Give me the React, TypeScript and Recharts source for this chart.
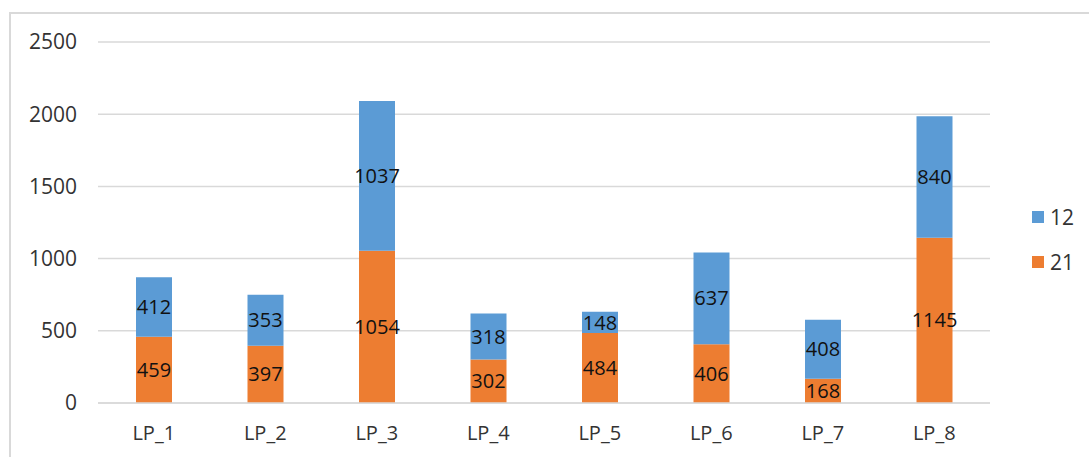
import { BarChart, Bar, XAxis, YAxis, CartesianGrid, Legend, LabelList } from 'recharts';

const categories = ['LP_1', 'LP_2', 'LP_3', 'LP_4', 'LP_5', 'LP_6', 'LP_7', 'LP_8'];
const series21 = [459, 397, 1054, 302, 484, 406, 168, 1145];
const series12 = [412, 353, 1037, 318, 148, 637, 408, 840];
const yTicks = [0, 500, 1000, 1500, 2000, 2500];

const data = categories.map((name, i) => ({ name, s21: series21[i], s12: series12[i] }));

const FONT = '"Open Sans", "Noto Sans", sans-serif';

function LegendBox({ payload }: any) {
  const items = payload || [];
  return (
    <div style={{ fontFamily: FONT, fontSize: 21, color: '#333', transform: 'translate(42px, 11px)' }}>
      {items.map((p: any) => (
        <div key={p.value} style={{ display: 'flex', alignItems: 'center', height: 45 }}>
          <span style={{ width: 12, height: 12, background: p.color, display: 'inline-block', marginRight: 6 }} />
          <span>{p.value}</span>
        </div>
      ))}
    </div>
  );
}

export default function App() {
  return (
    <div style={{ position: 'absolute', left: 0, top: 0, width: 1089, height: 457, overflow: 'hidden', background: '#fff' }}>
      <div
        style={{
          position: 'absolute',
          left: 9,
          top: 12,
          width: 1200,
          height: 600,
          border: '2px solid #d9d9d9',
          boxSizing: 'border-box',
        }}
      />
      <BarChart
        width={1089}
        height={457}
        data={data}
        margin={{ top: 42, right: 40, bottom: 24, left: 0 }}
        barSize={36}
        style={{ position: 'absolute', left: 0, top: 0 }}
      >
        <CartesianGrid vertical={false} stroke="#d9d9d9" strokeWidth={1.5} />
        <XAxis
          dataKey="name"
          axisLine={{ stroke: '#d9d9d9', strokeWidth: 1.5 }}
          tickLine={false}
          tickMargin={17}
          tick={{ fill: '#333', fontSize: 20, fontFamily: FONT }}
        />
        <YAxis
          width={98}
          domain={[0, 2500]}
          ticks={yTicks}
          axisLine={false}
          tickLine={false}
          tickMargin={15}
          tick={{ fill: '#333', fontSize: 21, fontFamily: FONT }}
        />
        <Legend
          layout="vertical"
          align="right"
          verticalAlign="middle"
          content={<LegendBox />}
          wrapperStyle={{ width: 59 }}
        />
        <Bar dataKey="s21" name="21" stackId="a" fill="#ED7D31" isAnimationActive={false}>
          <LabelList dataKey="s21" position="center" fill="#111" fontSize={20} fontFamily={FONT} />
        </Bar>
        <Bar dataKey="s12" name="12" stackId="a" fill="#5B9BD5" isAnimationActive={false}>
          <LabelList dataKey="s12" position="center" fill="#111" fontSize={20} fontFamily={FONT} />
        </Bar>
      </BarChart>
    </div>
  );
}
